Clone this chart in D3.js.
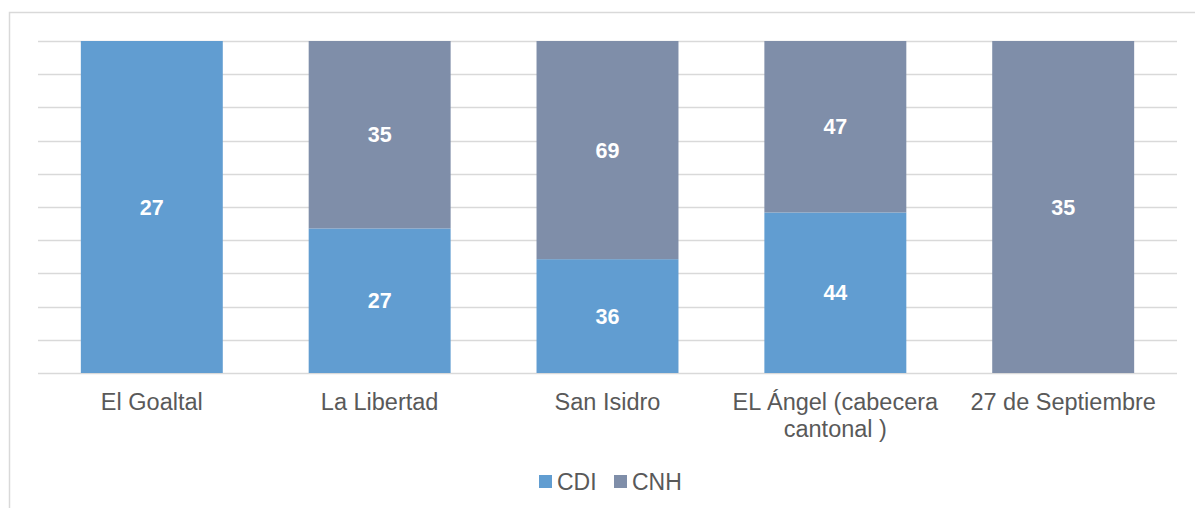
<!DOCTYPE html>
<html>
<head>
<meta charset="utf-8">
<script src="https://cdn.jsdelivr.net/npm/d3@7"></script>
<style>
  body { margin: 0; background: #fff; }
  svg { display: block; font-family: "Liberation Sans", Arial, sans-serif; }
</style>
</head>
<body>
<div id="chart"></div>
<script>
// Datos (100% apilado)
const categories = ["El Goaltal", "La Libertad", "San Isidro", "EL Ángel (cabecera cantonal )", "27 de Septiembre"];
const cdi = [27, 27, 36, 44, 0];
const cnh = [0, 35, 69, 47, 35];
const seriesNames = ["CDI", "CNH"];
const yTicks = [0, 0.1, 0.2, 0.3, 0.4, 0.5, 0.6, 0.7, 0.8, 0.9, 1];

const colors = { CDI: "#619dd1", CNH: "#7f8ea9" };

const W = 1195, H = 508;
const margin = { top: 41, right: 18, bottom: 135, left: 38 };
const plotW = W - margin.left - margin.right;
const plotH = H - margin.top - margin.bottom;

const svg = d3.select("#chart").append("svg").attr("width", W).attr("height", H);

// marco
svg.append("rect")
  .attr("x", 9.5).attr("y", 12.5)
  .attr("width", W).attr("height", H)
  .attr("fill", "none").attr("stroke", "#d9d9d9").attr("stroke-width", 1.5);

const g = svg.append("g").attr("transform", `translate(${margin.left},${margin.top})`);

const x = d3.scaleBand().domain(categories).range([0, plotW]).paddingInner(0.377).paddingOuter(0.188);
const y = d3.scaleLinear().domain([0, 1]).range([plotH, 0]);

// gridlines
g.append("g").selectAll("line").data(yTicks).enter().append("line")
  .attr("x1", 0).attr("x2", plotW)
  .attr("y1", (d) => Math.round(y(d)) + 0.5).attr("y2", (d) => Math.round(y(d)) + 0.5)
  .attr("stroke", "#d9d9d9").attr("stroke-width", 1.5);

const rows = categories.map((c, i) => ({ cat: c, CDI: cdi[i], CNH: cnh[i] }));
const stacked = d3.stack().keys(seriesNames).offset(d3.stackOffsetExpand)(rows);

const layer = g.selectAll(".layer").data(stacked).enter().append("g")
  .attr("fill", (d) => colors[d.key]);

layer.selectAll("rect").data((d) => d).enter().append("rect")
  .attr("x", (d) => x(d.data.cat))
  .attr("width", x.bandwidth())
  .attr("y", (d) => y(d[1]))
  .attr("height", (d) => Math.max(0, y(d[0]) - y(d[1])));

// etiquetas de datos
stacked.forEach((s) => {
  g.append("g").selectAll("text").data(s.filter((d) => d.data[s.key] > 0)).enter().append("text")
    .attr("x", (d) => x(d.data.cat) + x.bandwidth() / 2)
    .attr("y", (d) => (y(d[0]) + y(d[1])) / 2 + 7.5)
    .attr("text-anchor", "middle")
    .attr("fill", "#fff")
    .attr("font-weight", "bold")
    .attr("font-size", 21.5)
    .text((d) => d.data[s.key]);
});

// eje x
const xAxis = g.append("g").attr("transform", `translate(0,${plotH})`);
xAxis.selectAll("text").data(categories).enter().append("text")
  .attr("x", (d) => x(d) + x.bandwidth() / 2)
  .attr("y", 37)
  .attr("text-anchor", "middle")
  .attr("fill", "#595959")
  .attr("font-size", 23.5)
  .each(function (d) {
    const el = d3.select(this);
    const words = d.split(" ");
    let line = [];
    let tspan = el.append("tspan").attr("x", x(d) + x.bandwidth() / 2);
    words.forEach((w) => {
      line.push(w);
      tspan.text(line.join(" "));
      if (tspan.node().getComputedTextLength() > 222 && line.length > 1) {
        line.pop();
        tspan.text(line.join(" "));
        line = [w];
        tspan = el.append("tspan").attr("x", x(d) + x.bandwidth() / 2).attr("dy", 27).text(w);
      }
    });
  });

// leyenda
const legend = svg.append("g");
const legendItems = [{ name: "CDI", x: 539 }, { name: "CNH", x: 614 }];
legendItems.forEach((it) => {
  legend.append("rect").attr("x", it.x).attr("y", 475).attr("width", 13).attr("height", 13)
    .attr("fill", colors[it.name]);
  legend.append("text").attr("x", it.x + 18).attr("y", 489.5)
    .attr("fill", "#595959").attr("font-size", 23).text(it.name);
});
</script>
</body>
</html>
